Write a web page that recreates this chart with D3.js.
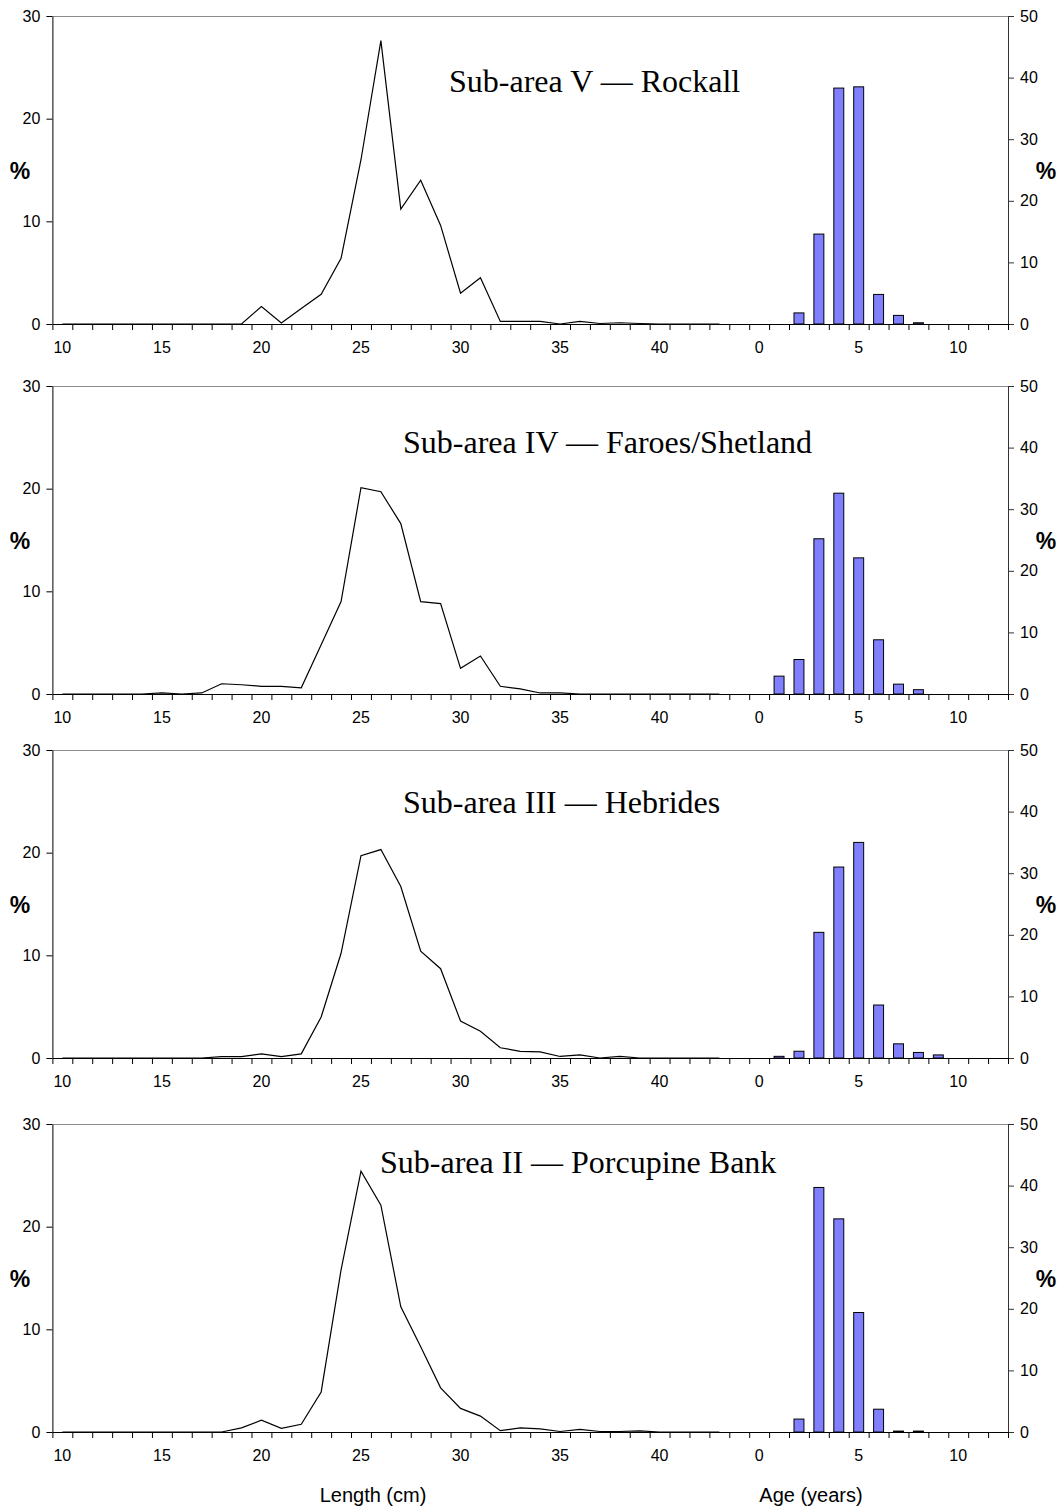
<!DOCTYPE html>
<html>
<head>
<meta charset="utf-8">
<script src="https://cdn.jsdelivr.net/npm/d3@7"></script>
<style>
  html, body { margin: 0; padding: 0; background: #fff; }
  svg { display: block; }
</style>
</head>
<body>
<svg id="chart" width="1059" height="1510"></svg>
<script>
// ---- categories on the shared x axis: length classes (cm) followed by age classes (years)
const lengthCats = [10, 11, 12, 13, 14, 15, 16, 17, 18, 19, 20, 21, 22, 23, 24, 25, 26, 27,
                    28, 29, 30, 31, 32, 33, 34, 35, 36, 37, 38, 39, 40, 41, 42, 43, 44];
const ageCats = [0, 1, 2, 3, 4, 5, 6, 7, 8, 9, 10, 11, 12];
const lengthTickLabels = [10, 15, 20, 25, 30, 35, 40];
const ageTickLabels = [0, 5, 10];
const leftTicks = [0, 10, 20, 30];
const rightTicks = [0, 10, 20, 30, 40, 50];

// ---- sub-area names
const areaTitles = [
  "Sub-area V \u2014 Rockall",
  "Sub-area IV \u2014 Faroes/Shetland",
  "Sub-area III \u2014 Hebrides",
  "Sub-area II \u2014 Porcupine Bank"
];

// ---- length frequency (%), lengths 10..43 cm
const rockallLength = [0, 0, 0, 0, 0, 0, 0, 0, 0, 0,
  1.7, 0.1, 1.5, 2.9, 6.4, 16.0, 27.6, 11.2, 14.0, 9.6,
  3.0, 4.5, 0.25, 0.25, 0.25, 0.0, 0.25, 0.05, 0.12, 0.05,
  0, 0, 0, 0];
const faroesLength = [0, 0, 0, 0, 0, 0.1, 0, 0.1, 1.0, 0.9,
  0.75, 0.75, 0.6, 4.8, 9.0, 20.1, 19.7, 16.6, 9.0, 8.8,
  2.5, 3.7, 0.75, 0.5, 0.1, 0.1, 0, 0, 0, 0,
  0, 0, 0, 0];
const hebridesLength = [0, 0, 0, 0, 0, 0, 0, 0, 0.13, 0.13,
  0.4, 0.13, 0.4, 4.0, 10.2, 19.7, 20.3, 16.7, 10.4, 8.7,
  3.6, 2.6, 1.0, 0.65, 0.6, 0.15, 0.3, 0.0, 0.15, 0,
  0, 0, 0, 0];
const porcupineLength = [0, 0, 0, 0, 0, 0, 0, 0, 0, 0.4,
  1.15, 0.35, 0.75, 3.9, 15.8, 25.4, 22.1, 12.2, 8.3, 4.3,
  2.3, 1.55, 0.13, 0.4, 0.3, 0.05, 0.25, 0.05, 0.05, 0.1,
  0, 0, 0, 0];

// ---- age composition (%), ages 0..12 years
const rockallAge   = [0, 0, 1.8, 14.6, 38.3, 38.5, 4.8, 1.4, 0.2, 0, 0, 0, 0];
const faroesAge    = [0, 2.9, 5.6, 25.2, 32.6, 22.1, 8.8, 1.6, 0.7, 0, 0, 0, 0];
const hebridesAge  = [0, 0.27, 1.1, 20.4, 31.0, 35.0, 8.6, 2.3, 0.9, 0.5, 0, 0, 0];
const porcupineAge = [0, 0, 2.1, 39.7, 34.6, 19.4, 3.7, 0.15, 0.15, 0, 0, 0, 0];

const lengthSeries = [rockallLength, faroesLength, hebridesLength, porcupineLength];
const ageSeries = [rockallAge, faroesAge, hebridesAge, porcupineAge];

// ---- layout
const plotLeft = 52.4, plotRight = 1008, plotHeight = 308;
const panelTops = [16, 386, 750, 1124];
const titlePos = [[449, 92], [403, 453], [403, 813], [380, 1173]];
const sansFont = '"Liberation Sans", Arial, sans-serif';
const serifFont = '"Liberation Serif", "Times New Roman", serif';
const tickFontSize = 16;

const svg = d3.select("#chart");
svg.append("rect").attr("width", 1059).attr("height", 1510).attr("fill", "#fff");

const keys = lengthCats.map(d => "L" + d).concat(ageCats.map(d => "A" + d));
const x = d3.scaleBand().domain(keys).range([plotLeft, plotRight]).padding(0);
const xEdge = d3.scaleLinear().domain([0, keys.length]).range([plotLeft, plotRight]);
const labelKeys = lengthTickLabels.map(d => "L" + d).concat(ageTickLabels.map(d => "A" + d));
const barW = x.bandwidth() * 0.5;

// shared styling for axis text
function styleAxis(a, stroke) {
  a.attr("font-family", sansFont).attr("font-size", tickFontSize);
  a.selectAll("text").attr("fill", "#000").style("font-size", tickFontSize + "px");
  a.selectAll("path,line").attr("stroke", stroke);
}

lengthSeries.forEach((lenVals, i) => {
  const top = panelTops[i], bottom = top + plotHeight;
  const yL = d3.scaleLinear().domain([0, 30]).range([bottom, top]);
  const yR = d3.scaleLinear().domain([0, 50]).range([bottom, top]);
  const g = svg.append("g");

  // plot frame top edge
  g.append("line")
    .attr("x1", plotLeft).attr("x2", plotRight)
    .attr("y1", top + 0.5).attr("y2", top + 0.5)
    .attr("stroke", "#8c8c8c").attr("stroke-width", 1);

  // age composition bars (right axis)
  const ages = ageSeries[i].map((v, k) => ({ key: "A" + ageCats[k], v }));
  g.append("g").selectAll("rect")
    .data(ages.filter(d => d.v > 0))
    .join("rect")
    .attr("x", d => x(d.key) + (x.bandwidth() - barW) / 2)
    .attr("y", d => yR(d.v))
    .attr("width", barW)
    .attr("height", d => yR(0) - yR(d.v))
    .attr("fill", "#8080ff")
    .attr("stroke", "#000")
    .attr("stroke-width", 1);

  // length frequency line (left axis)
  const pts = lenVals.map((v, k) => ({ key: "L" + lengthCats[k], v }));
  g.append("path")
    .datum(pts)
    .attr("fill", "none")
    .attr("stroke", "#000")
    .attr("stroke-width", 1.2)
    .attr("stroke-linejoin", "miter")
    .attr("d", d3.line()
      .x(d => x(d.key) + x.bandwidth() / 2)
      .y(d => yL(d.v)));

  // left axis
  g.append("g")
    .attr("transform", `translate(${plotLeft},0)`)
    .call(d3.axisLeft(yL).tickValues(leftTicks).tickSize(6).tickSizeOuter(0).tickPadding(6))
    .call(a => styleAxis(a, "#000"));

  // right axis
  g.append("g")
    .attr("transform", `translate(${plotRight},0)`)
    .call(d3.axisRight(yR).tickValues(rightTicks).tickSize(6).tickSizeOuter(0).tickPadding(6))
    .call(a => styleAxis(a, "#333"));

  // bottom axis: tick marks on category boundaries
  g.append("g")
    .attr("transform", `translate(0,${bottom})`)
    .call(d3.axisBottom(xEdge).tickValues(d3.range(keys.length + 1)).tickFormat("").tickSize(6).tickSizeOuter(0))
    .call(a => styleAxis(a, "#000"));

  // bottom axis: category labels centred in their classes
  g.append("g")
    .attr("transform", `translate(0,${bottom})`)
    .call(d3.axisBottom(x).tickValues(labelKeys).tickFormat(k => k.slice(1)).tickSize(0).tickPadding(18))
    .call(a => a.select(".domain").remove())
    .call(a => styleAxis(a, "#000"));

  // "%" axis labels on both sides
  [20, 1046].forEach(px => {
    g.append("text")
      .attr("x", px).attr("y", top + plotHeight / 2 + 1)
      .attr("text-anchor", "middle")
      .attr("dominant-baseline", "central")
      .attr("font-family", sansFont)
      .attr("font-weight", "bold")
      .attr("font-size", 23)
      .text("%");
  });

  // sub-area title
  g.append("text")
    .attr("x", titlePos[i][0]).attr("y", titlePos[i][1])
    .attr("font-family", serifFont)
    .attr("font-size", 32)
    .attr("fill", "#000")
    .text(areaTitles[i]);
});

// axis titles
svg.append("text")
  .attr("x", 373).attr("y", 1502)
  .attr("text-anchor", "middle")
  .attr("font-family", sansFont).attr("font-size", 20)
  .text("Length (cm)");
svg.append("text")
  .attr("x", 811).attr("y", 1502)
  .attr("text-anchor", "middle")
  .attr("font-family", sansFont).attr("font-size", 20)
  .text("Age (years)");
</script>
</body>
</html>
